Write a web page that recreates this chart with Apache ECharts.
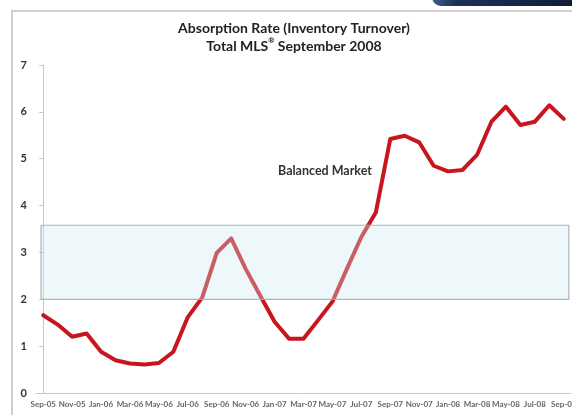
<!DOCTYPE html>
<html>
<head>
<meta charset="utf-8">
<script src="https://cdn.jsdelivr.net/npm/echarts@6/dist/echarts.min.js"></script>
<style>
  html, body { margin: 0; padding: 0; background: #fff; }
  #chart { width: 572px; height: 415px; }
</style>
</head>
<body>
<div id="chart"></div>
<script>
// Monthly categories, Sep-05 .. Sep-08
const months = [
  'Sep-05','Oct-05','Nov-05','Dec-05',
  'Jan-06','Feb-06','Mar-06','Apr-06','May-06','Jun-06','Jul-06','Aug-06','Sep-06','Oct-06','Nov-06','Dec-06',
  'Jan-07','Feb-07','Mar-07','Apr-07','May-07','Jun-07','Jul-07','Aug-07','Sep-07','Oct-07','Nov-07','Dec-07',
  'Jan-08','Feb-08','Mar-08','Apr-08','May-08','Jun-08','Jul-08','Aug-08','Sep-08'
];

// Absorption rate (months of inventory)
const absorption = [
  1.66, 1.46, 1.20, 1.27,
  0.88, 0.70, 0.63, 0.61, 0.64, 0.88, 1.62, 2.04, 2.99, 3.30, 2.65, 2.08,
  1.52, 1.16, 1.16, 1.55, 1.95, 2.65, 3.33, 3.85, 5.42, 5.49, 5.35, 4.85,
  4.73, 4.76, 5.08, 5.79, 6.11, 5.72, 5.79, 6.14, 5.85
];

// Balanced-market band (rate range) and its horizontal span in month index units
const balancedLow = 2.0;
const balancedHigh = 3.58;
const bandStart = -0.15;
const bandEnd = 36.35;

const yTicks = [0, 1, 2, 3, 4, 5, 6, 7];

const titleLine1 = 'Absorption Rate (Inventory Turnover)';
const titleLine2a = 'Total MLS';
const titleLine2b = ' September 2008';
const bandLabel = 'Balanced Market';

const FONT = 'Lato, "Open Sans", sans-serif';

const chart = echarts.init(document.getElementById('chart'), null, { renderer: 'canvas' });

chart.setOption({
  animation: false,
  backgroundColor: '#ffffff',
  graphic: [
    // outer frame
    {
      type: 'polyline',
      shape: { points: [[12, 415], [12, 11], [572, 11]] },
      style: { stroke: '#cfcfcf', lineWidth: 2, fill: null },
      silent: true
    },
    // navy tab at top right
    {
      type: 'rect',
      shape: { x: 432, y: -4, width: 150, height: 10, r: [0, 0, 0, 9] },
      style: {
        fill: new echarts.graphic.LinearGradient(0, 0, 1, 0, [
          { offset: 0, color: '#3f5f92' },
          { offset: 0.15, color: '#1d3158' },
          { offset: 1, color: '#0f1b36' }
        ])
      },
      silent: true
    },
    // two-line chart title
    {
      type: 'text',
      x: 294,
      y: 19,
      style: {
        text: '{a|' + titleLine1 + '}\n{a|' + titleLine2a + '}{s|®}{a|' + titleLine2b + '}',
        align: 'center',
        verticalAlign: 'top',
        rich: {
          a: { fontFamily: FONT, fontWeight: 'bold', fontSize: 14, fill: '#222', lineHeight: 18 },
          s: { fontFamily: FONT, fontWeight: 'bold', fontSize: 7.5, fill: '#222', lineHeight: 18, verticalAlign: 'top' }
        }
      },
      silent: true
    },
    {
      type: 'text',
      left: 278,
      top: 164,
      style: {
        text: bandLabel,
        fontFamily: FONT,
        fontWeight: 'bold',
        fontSize: 12.5,
        fill: '#333'
      },
      silent: true
    }
  ],
  grid: { left: 36, right: 1, top: 65, bottom: 22, containLabel: false, outerBoundsMode: 'none' },
  xAxis: [
    {
      type: 'category',
      data: months,
      boundaryGap: true,
      axisLine: { lineStyle: { color: '#c6c6c6', width: 1 } },
      axisTick: { interval: 1, length: 4, lineStyle: { color: '#c6c6c6' } },
      axisLabel: {
        interval: 1,
        margin: 7,
        fontFamily: FONT,
        fontSize: 8,
        fontWeight: 'bold',
        color: '#666',
        hideOverlap: false
      },
      splitLine: { show: false }
    },
    {
      type: 'value',
      min: -0.5,
      max: 36.5,
      show: false
    }
  ],
  yAxis: {
    type: 'value',
    min: yTicks[0],
    max: yTicks[yTicks.length - 1],
    interval: 1,
    axisLine: { show: true, lineStyle: { color: '#c6c6c6', width: 1 } },
    axisTick: { show: true, length: 4, lineStyle: { color: '#c6c6c6' } },
    axisLabel: {
      margin: 9,
      fontFamily: FONT,
      fontSize: 11,
      fontWeight: 'bold',
      color: '#333'
    },
    splitLine: { show: false }
  },
  series: [
    {
      name: 'Absorption Rate',
      type: 'line',
      data: absorption,
      symbol: 'none',
      z: 2,
      lineStyle: { color: '#c7161e', width: 4, join: 'round', cap: 'round' }
    },
    {
      name: bandLabel,
      type: 'line',
      xAxisIndex: 1,
      data: [],
      symbol: 'none',
      z: 5,
      markArea: {
        silent: true,
        z: 10,
        itemStyle: {
          color: 'rgba(206, 232, 238, 0.35)',
          borderColor: 'rgba(160, 175, 180, 0.9)',
          borderWidth: 1.2
        },
        label: { show: false },
        data: [[
          { coord: [bandStart, balancedLow] },
          { coord: [bandEnd, balancedHigh] }
        ]]
      }
    }
  ]
});
</script>
</body>
</html>
